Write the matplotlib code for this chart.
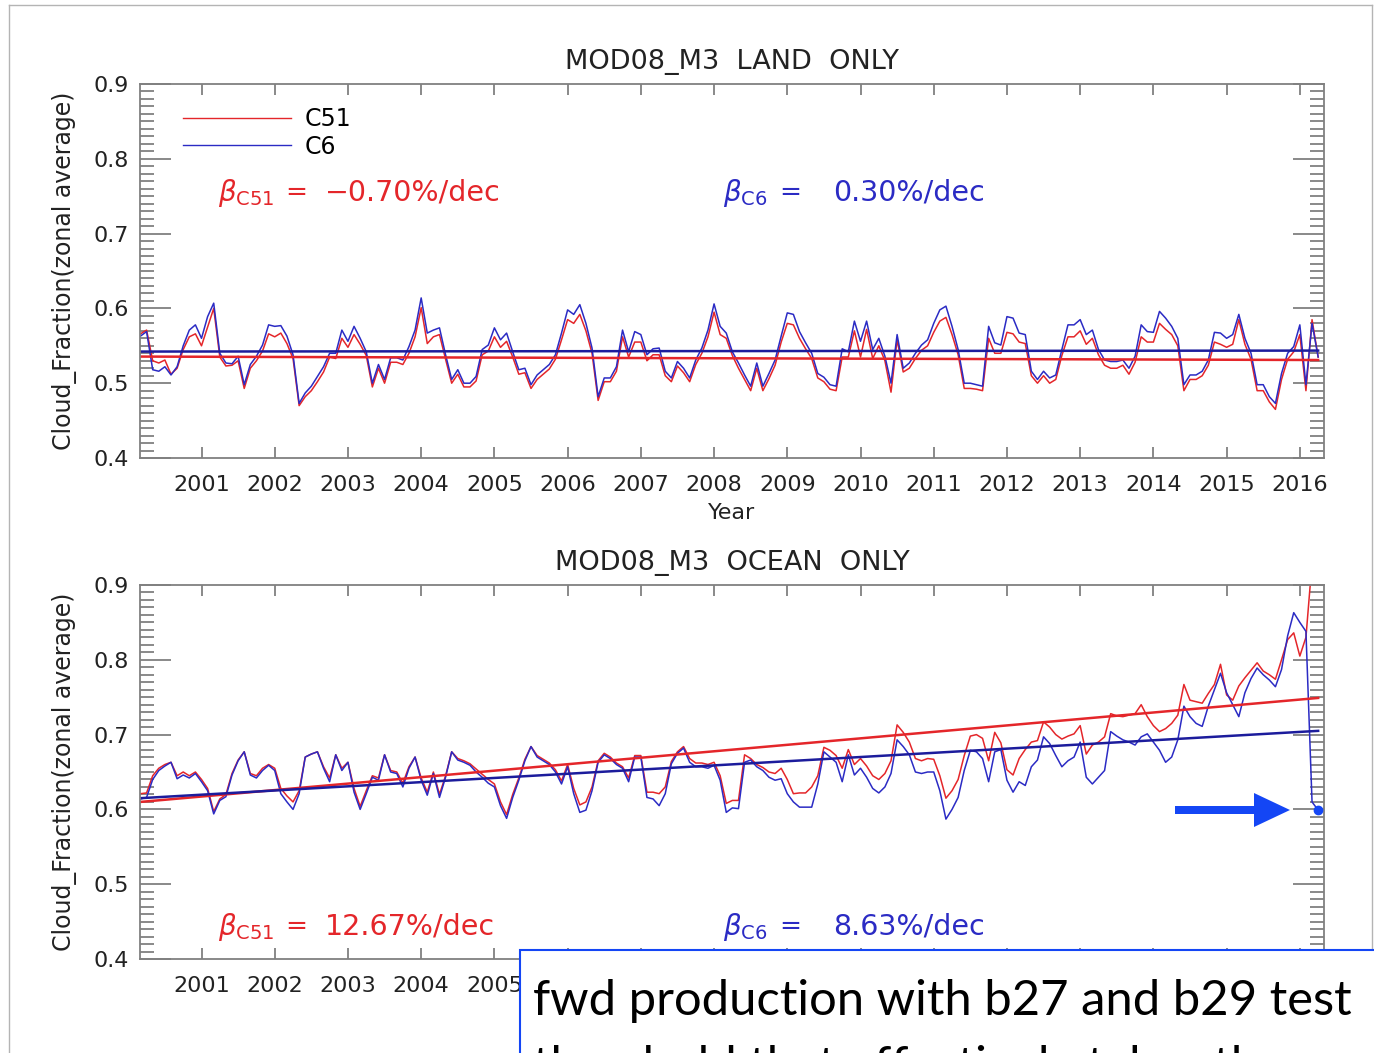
import numpy as np
import matplotlib.pyplot as plt
from matplotlib.ticker import MultipleLocator
from matplotlib.patches import Rectangle, FancyArrow

# monthly zonal-average cloud fraction, Mar 2000 .. Apr 2016
land_c51 = [
    .566, .571, .530, .527, .531, .512, .520, .545, .562, .566,
    .550, .575, .600, .535, .523, .524, .530, .493, .520, .530,
    .543, .566, .562, .567, .553, .533, .470, .482, .490, .502,
    .515, .535, .533, .560, .548, .565, .552, .537, .495, .520,
    .500, .528, .528, .525, .540, .562, .601, .553, .562, .565,
    .532, .500, .512, .495, .495, .503, .538, .543, .562, .548,
    .556, .535, .512, .514, .493, .505, .512, .519, .532, .558,
    .585, .580, .592, .570, .540, .477, .502, .502, .516, .562,
    .535, .555, .555, .530, .538, .538, .510, .502, .523, .514,
    .502, .525, .540, .562, .595, .565, .560, .537,
    .520, .505, .490, .520, .490, .506, .524, .555, .580, .578,
    .560, .546, .533, .507, .502, .492, .490, .535, .535, .570,
    .535, .572, .533, .550, .530, .488, .558, .515, .520, .533,
    .544, .550, .568, .583, .588, .565, .538, .493, .493, .492,
    .490, .560, .540, .540, .568, .566, .555, .553, .510, .500,
    .510, .500, .505, .537, .562, .562, .570, .552, .560, .538,
    .524, .520, .520, .524, .512, .528, .562, .555, .555, .580,
    .572, .565, .550, .490, .505, .505, .510, .524, .555, .552,
    .548, .552, .585, .552, .532, .490, .490, .475, .465, .505,
    .532, .542, .565, .490, .585, .535]
land_c6 = [
    .563, .569, .518, .516, .522, .511, .522, .550, .571, .578,
    .560, .589, .607, .540, .527, .526, .536, .498, .525, .536,
    .551, .578, .576, .577, .563, .538, .473, .487, .496, .509,
    .522, .540, .540, .571, .556, .576, .560, .542, .500, .525,
    .505, .534, .534, .531, .549, .571, .614, .567, .571, .574,
    .538, .505, .518, .500, .500, .509, .545, .551, .574, .558,
    .567, .542, .518, .520, .498, .511, .518, .525, .538, .567,
    .598, .592, .605, .580, .547, .482, .507, .507, .522, .571,
    .542, .569, .565, .538, .546, .547, .516, .507, .529, .520,
    .507, .531, .547, .571, .606, .576, .567, .542,
    .527, .511, .496, .527, .496, .513, .531, .563, .594, .592,
    .569, .554, .540, .513, .508, .498, .496, .546, .542, .583,
    .556, .583, .545, .560, .536, .500, .565, .520, .527, .540,
    .551, .558, .580, .598, .603, .576, .545, .500, .500, .498,
    .496, .576, .554, .551, .589, .587, .567, .565, .516, .505,
    .516, .507, .511, .545, .578, .578, .585, .565, .571, .545,
    .531, .529, .529, .531, .520, .536, .578, .569, .568, .596,
    .587, .576, .560, .498, .511, .511, .516, .531, .568, .567,
    .560, .565, .592, .560, .540, .498, .498, .482, .473, .513,
    .540, .549, .578, .498, .580, .535]
ocean_c51 = [
    .621, .622, .645, .655, .660, .663, .645, .650, .645, .650,
    .640, .628, .597, .614, .620, .648, .666, .677, .648, .645,
    .655, .660, .655, .628, .618, .610, .625, .670, .674, .677,
    .657, .642, .673, .655, .663, .628, .604, .625, .645, .642,
    .673, .652, .650, .635, .657, .670, .642, .623, .650, .620,
    .645, .677, .668, .665, .661, .654, .647, .640, .634, .610,
    .593, .620, .642, .667, .684, .672, .667, .662, .653, .638,
    .660, .628, .606, .610, .630, .665, .675, .670, .662, .657,
    .642, .672, .672, .623, .623, .621, .630, .664, .677, .684,
    .668, .662, .662, .660, .663, .645, .608, .612, .612, .673,
    .668, .660, .656, .650, .648, .655, .640, .621, .622, .622,
    .630, .645, .683, .679, .672, .655, .680, .660, .668, .658,
    .645, .640, .648, .665, .713, .703, .690, .668, .665, .668,
    .667, .645, .615, .625, .640, .672, .698, .700, .695, .665,
    .703, .689, .653, .646, .668, .680, .690, .692, .717, .710,
    .700, .694, .698, .701, .712, .674, .686, .690, .697, .728,
    .725, .724, .726, .728, .740, .724, .712, .704, .708, .715,
    .726, .767, .746, .744, .742, .755, .767, .794, .753, .746,
    .765, .776, .786, .796, .785, .780, .774, .800, .827, .836,
    .805, .830, .930, .960]
ocean_c6 = [
    .614, .616, .640, .652, .658, .663, .641, .646, .642, .648,
    .637, .625, .594, .612, .617, .646, .665, .677, .646, .642,
    .652, .659, .652, .621, .610, .600, .621, .670, .674, .677,
    .655, .637, .673, .652, .663, .623, .600, .621, .643, .639,
    .673, .650, .648, .630, .655, .670, .639, .619, .648, .616,
    .643, .677, .666, .663, .659, .650, .643, .635, .630, .605,
    .588, .616, .639, .665, .684, .670, .665, .660, .650, .634,
    .657, .621, .596, .599, .625, .663, .673, .668, .660, .655,
    .637, .670, .670, .616, .614, .605, .621, .661, .675, .682,
    .663, .657, .657, .655, .659, .639, .596, .602, .601, .663,
    .666, .657, .652, .643, .639, .641, .621, .610, .603, .603,
    .603, .634, .677, .670, .663, .637, .673, .646, .655, .643,
    .628, .622, .630, .648, .693, .684, .673, .650, .648, .650,
    .650, .625, .587, .600, .616, .652, .679, .677, .668, .637,
    .677, .680, .639, .623, .637, .632, .657, .666, .697, .688,
    .672, .657, .665, .670, .690, .643, .634, .643, .652, .704,
    .698, .693, .690, .686, .697, .701, .690, .679, .663, .670,
    .693, .738, .724, .715, .711, .738, .760, .782, .756, .740,
    .724, .756, .775, .789, .780, .773, .764, .787, .832, .863,
    .850, .838, .610, .599]

# linear trend, value at first and last month
land_trend_c51 = [0.5356, 0.5310]
land_trend_c6 = [0.5423, 0.5436]
ocean_trend_c51 = [0.610, 0.749]
ocean_trend_c6 = [0.615, 0.705]

land_slopes = ['\u22120.70%/dec', '0.30%/dec']
ocean_slopes = ['12.67%/dec', '8.63%/dec']
years = list(range(2001, 2017))

RED = '#e4262a'
BLUE = '#2b2bc4'
BLUE_T = '#1c1c9c'
GRAY = '#808080'
SLIDE_BLUE = '#1446f5'

plt.rcParams['font.family'] = ['DejaVu Sans']
plt.rcParams['mathtext.fontset'] = 'dejavusans'

t = 2000 + (2 + np.arange(len(land_c6))) / 12.0

fig = plt.figure(figsize=(13.74, 10.53), dpi=100)
W, H = 1374, 1053


def panel(rect, c51, c6, tr51, tr6, title, shown_years, xlabel):
    ax = fig.add_axes(rect)
    ax.plot(t, c51, color=RED, lw=1.1)
    ax.plot(t, c6, color=BLUE, lw=1.1)
    ax.plot([t[0], t[-1]], tr51, color=RED, lw=1.8)
    ax.plot([t[0], t[-1]], tr6, color=BLUE_T, lw=1.8)
    ax.set_xlim(2000.16, 2016.33)
    ax.set_ylim(0.4, 0.9)
    ax.set_xticks(years)
    ax.set_xticklabels([str(y) if y in shown_years else '' for y in years])
    ax.yaxis.set_major_locator(MultipleLocator(0.1))
    ax.yaxis.set_minor_locator(MultipleLocator(0.01))
    ax.tick_params(which='both', direction='in', color=GRAY, width=1.3,
                   labelsize=16, labelcolor='#222222')
    ax.tick_params(axis='y', which='major', length=22, left=True, right=True, pad=8)
    ax.tick_params(axis='y', which='minor', length=10, left=True, right=True)
    ax.tick_params(axis='x', which='major', length=8, top=True, bottom=True, pad=12)
    for sp in ax.spines.values():
        sp.set_color(GRAY)
        sp.set_linewidth(1.3)
    ax.set_ylabel('Cloud_Fraction(zonal average)', fontsize=17, labelpad=12, color='#222222')
    if xlabel:
        ax.set_xlabel(xlabel, fontsize=16, labelpad=6, color='#222222')
    ax.set_title(title, fontsize=19.5, pad=11, color='#222222')
    return ax


ax1 = panel([140 / W, 1 - 458 / H, 1184 / W, 374 / H], land_c51, land_c6,
            land_trend_c51, land_trend_c6, 'MOD08_M3  LAND  ONLY', years, 'Year')
# the lower panel's right-hand year labels sit under the slide's text box
ax2 = panel([140 / W, 1 - 959 / H, 1184 / W, 374 / H], ocean_c51, ocean_c6,
            ocean_trend_c51, ocean_trend_c6, 'MOD08_M3  OCEAN  ONLY',
            years[:5], None)

# legend (top panel)
ax1.legend(['C51', 'C6'], loc='upper left', bbox_to_anchor=(0.018, 0.995), frameon=False,
           fontsize=17, handlelength=4.6, handletextpad=0.55, labelspacing=0.15)
for ln in ax1.get_legend().get_lines():
    ln.set_linewidth(1.0)

# trend annotations
for ax, ypos, slopes in [(ax1, 0.709, land_slopes), (ax2, 0.086, ocean_slopes)]:
    ax.text(0.066, ypos, r'$\beta_{\mathrm{C51}}$', color=RED, fontsize=20,
            transform=ax.transAxes, va='center')
    ax.text(0.132, ypos, '=', color=RED, fontsize=19, transform=ax.transAxes,
            va='center', ha='center')
    ax.text(0.156, ypos, slopes[0], color=RED, fontsize=20.5, transform=ax.transAxes,
            va='center')
    ax.text(0.492, ypos, r'$\beta_{\mathrm{C6}}$', color=BLUE, fontsize=20,
            transform=ax.transAxes, va='center')
    ax.text(0.549, ypos, '=', color=BLUE, fontsize=19, transform=ax.transAxes,
            va='center', ha='center')
    ax.text(0.585, ypos, slopes[1], color=BLUE, fontsize=20.5, transform=ax.transAxes,
            va='center')

# last C6 ocean month highlighted
ax2.plot(t[-1], ocean_c6[-1], 'o', color=SLIDE_BLUE, ms=6, clip_on=False, zorder=5)

# slide overlay in pixel coordinates
ov = fig.add_axes([0, 0, 1, 1])
ov.set_xlim(0, W)
ov.set_ylim(H, 0)
ov.axis('off')
ov.plot([9, 9], [5, H], color='#b4b4b4', lw=1.0)
ov.plot([9, 1372], [5, 5], color='#b4b4b4', lw=1.0)
ov.plot([1372, 1372], [5, H], color='#b4b4b4', lw=1.0)
ov.add_patch(FancyArrow(1175, 810, 115, 0, width=8, head_width=34, head_length=36,
                        length_includes_head=True, color=SLIDE_BLUE, lw=0))
ov.add_patch(Rectangle((520, 950), 900, 200, facecolor='white',
                       edgecolor=SLIDE_BLUE, lw=1.5, zorder=3))
ov.text(533, 1015, 'fwd production with b27 and b29 test', fontsize=35.3,
        family='Lato', va='baseline', ha='left', color='black', zorder=4)
ov.text(533, 1081, 'threshold that effectively takes the', fontsize=35.3,
        family='Lato', va='baseline', ha='left', color='black', zorder=4)

fig.savefig('out.png', dpi=100)
